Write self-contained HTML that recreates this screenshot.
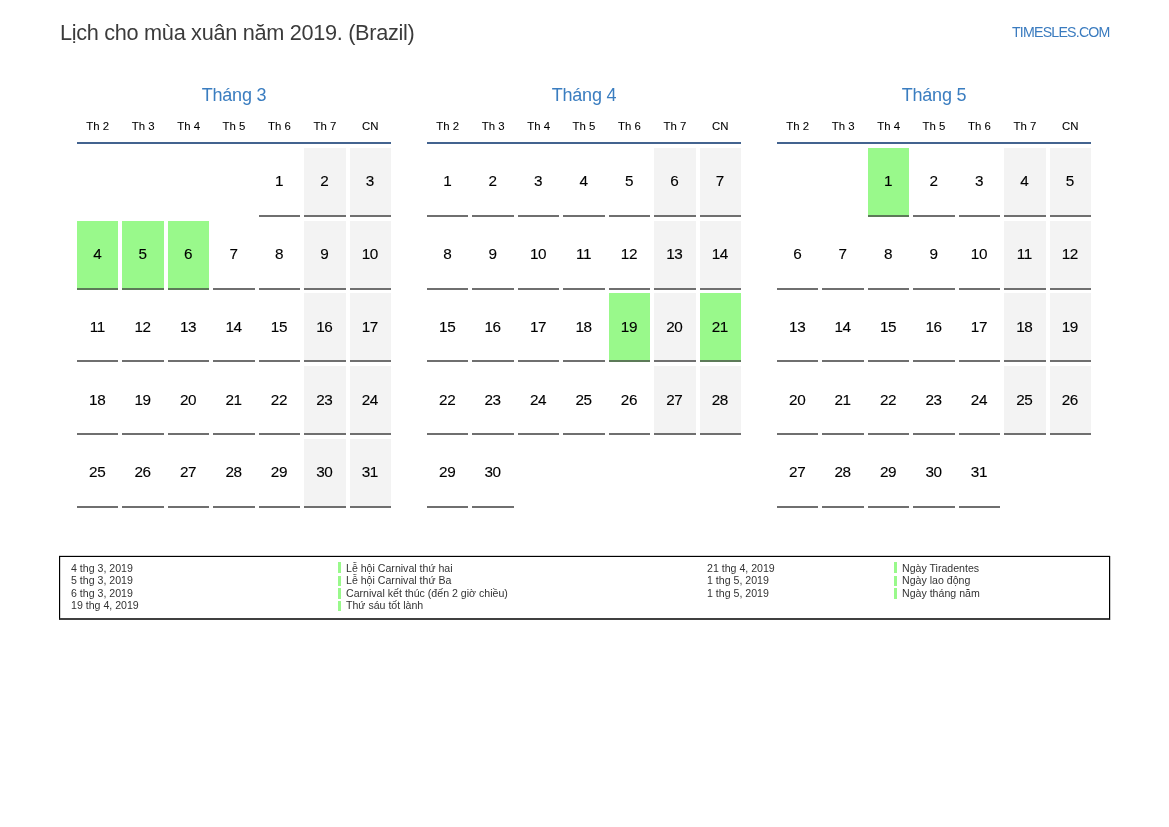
<!DOCTYPE html><html><head><meta charset="utf-8"><style>
html,body{margin:0;padding:0;background:#fff;width:1169px;height:827px;overflow:hidden;}
body{position:relative;font-family:"Liberation Sans", sans-serif;}
#w{position:absolute;left:0;top:0;width:1169px;height:827px;will-change:transform;}
.a{position:absolute;white-space:nowrap;}
.t{left:60px;top:22px;font-size:21.7px;letter-spacing:-0.3px;color:#3b3b3b;line-height:1;}
.b{left:1012px;top:25px;font-size:14.2px;letter-spacing:-0.8px;color:#3a7bbf;line-height:1;}
.mt{top:85px;width:314px;text-align:center;font-size:18px;letter-spacing:-0.2px;color:#3a7dc0;line-height:20px;}
.wd{top:119px;width:41.43px;text-align:center;font-size:11.4px;color:#000;-webkit-text-stroke:0.08px #000;line-height:14px;}
.ln{top:142px;width:314px;height:2px;background:#43638f;}
.c{width:41.43px;height:67px;border-bottom:2px solid #6f6f6f;}
.n{width:41.43px;height:67px;text-align:center;line-height:66px;font-size:15.3px;letter-spacing:-0.4px;text-indent:-1px;color:#000;-webkit-text-stroke:0.12px #000;}
.w{background:#f3f3f3;}.g{background:#99f98b;border-bottom-color:#5c7a58;}
.lg{left:59px;top:556px;width:1049px;height:61px;border:1px solid #000;border-bottom:2px solid #404040;box-shadow:0 -1px 0 #d4d4d4,1px 0 0 #c8c8c8,inset 1px 0 0 #d4d4d4;}
.li{font-size:10.6px;line-height:12.35px;color:#333;}
.gb{width:3px;background:#99f98b;}
</style></head><body><div id="w">
<div class="a t">Lịch cho mùa xuân năm 2019. (Brazil)</div>
<div class="a b">TIMESLES.COM</div>
<div class="a mt" style="left:77px">Tháng 3</div>
<div class="a wd" style="left:77.00px">Th 2</div>
<div class="a wd" style="left:122.43px">Th 3</div>
<div class="a wd" style="left:167.86px">Th 4</div>
<div class="a wd" style="left:213.29px">Th 5</div>
<div class="a wd" style="left:258.72px">Th 6</div>
<div class="a wd" style="left:304.15px">Th 7</div>
<div class="a wd" style="left:349.58px">CN</div>
<div class="a ln" style="left:77px"></div>
<div class="a c" style="left:258.72px;top:148.00px"></div>
<div class="a n" style="left:258.72px;top:148px">1</div>
<div class="a c w" style="left:304.15px;top:148.00px"></div>
<div class="a n" style="left:304.15px;top:148px">2</div>
<div class="a c w" style="left:349.58px;top:148.00px"></div>
<div class="a n" style="left:349.58px;top:148px">3</div>
<div class="a c g" style="left:77.00px;top:220.70px"></div>
<div class="a n" style="left:77.00px;top:221px">4</div>
<div class="a c g" style="left:122.43px;top:220.70px"></div>
<div class="a n" style="left:122.43px;top:221px">5</div>
<div class="a c g" style="left:167.86px;top:220.70px"></div>
<div class="a n" style="left:167.86px;top:221px">6</div>
<div class="a c" style="left:213.29px;top:220.70px"></div>
<div class="a n" style="left:213.29px;top:221px">7</div>
<div class="a c" style="left:258.72px;top:220.70px"></div>
<div class="a n" style="left:258.72px;top:221px">8</div>
<div class="a c w" style="left:304.15px;top:220.70px"></div>
<div class="a n" style="left:304.15px;top:221px">9</div>
<div class="a c w" style="left:349.58px;top:220.70px"></div>
<div class="a n" style="left:349.58px;top:221px">10</div>
<div class="a c" style="left:77.00px;top:293.40px"></div>
<div class="a n" style="left:77.00px;top:294px">11</div>
<div class="a c" style="left:122.43px;top:293.40px"></div>
<div class="a n" style="left:122.43px;top:294px">12</div>
<div class="a c" style="left:167.86px;top:293.40px"></div>
<div class="a n" style="left:167.86px;top:294px">13</div>
<div class="a c" style="left:213.29px;top:293.40px"></div>
<div class="a n" style="left:213.29px;top:294px">14</div>
<div class="a c" style="left:258.72px;top:293.40px"></div>
<div class="a n" style="left:258.72px;top:294px">15</div>
<div class="a c w" style="left:304.15px;top:293.40px"></div>
<div class="a n" style="left:304.15px;top:294px">16</div>
<div class="a c w" style="left:349.58px;top:293.40px"></div>
<div class="a n" style="left:349.58px;top:294px">17</div>
<div class="a c" style="left:77.00px;top:366.10px"></div>
<div class="a n" style="left:77.00px;top:367px">18</div>
<div class="a c" style="left:122.43px;top:366.10px"></div>
<div class="a n" style="left:122.43px;top:367px">19</div>
<div class="a c" style="left:167.86px;top:366.10px"></div>
<div class="a n" style="left:167.86px;top:367px">20</div>
<div class="a c" style="left:213.29px;top:366.10px"></div>
<div class="a n" style="left:213.29px;top:367px">21</div>
<div class="a c" style="left:258.72px;top:366.10px"></div>
<div class="a n" style="left:258.72px;top:367px">22</div>
<div class="a c w" style="left:304.15px;top:366.10px"></div>
<div class="a n" style="left:304.15px;top:367px">23</div>
<div class="a c w" style="left:349.58px;top:366.10px"></div>
<div class="a n" style="left:349.58px;top:367px">24</div>
<div class="a c" style="left:77.00px;top:438.80px"></div>
<div class="a n" style="left:77.00px;top:439px">25</div>
<div class="a c" style="left:122.43px;top:438.80px"></div>
<div class="a n" style="left:122.43px;top:439px">26</div>
<div class="a c" style="left:167.86px;top:438.80px"></div>
<div class="a n" style="left:167.86px;top:439px">27</div>
<div class="a c" style="left:213.29px;top:438.80px"></div>
<div class="a n" style="left:213.29px;top:439px">28</div>
<div class="a c" style="left:258.72px;top:438.80px"></div>
<div class="a n" style="left:258.72px;top:439px">29</div>
<div class="a c w" style="left:304.15px;top:438.80px"></div>
<div class="a n" style="left:304.15px;top:439px">30</div>
<div class="a c w" style="left:349.58px;top:438.80px"></div>
<div class="a n" style="left:349.58px;top:439px">31</div>
<div class="a mt" style="left:427px">Tháng 4</div>
<div class="a wd" style="left:427.00px">Th 2</div>
<div class="a wd" style="left:472.43px">Th 3</div>
<div class="a wd" style="left:517.86px">Th 4</div>
<div class="a wd" style="left:563.29px">Th 5</div>
<div class="a wd" style="left:608.72px">Th 6</div>
<div class="a wd" style="left:654.15px">Th 7</div>
<div class="a wd" style="left:699.58px">CN</div>
<div class="a ln" style="left:427px"></div>
<div class="a c" style="left:427.00px;top:148.00px"></div>
<div class="a n" style="left:427.00px;top:148px">1</div>
<div class="a c" style="left:472.43px;top:148.00px"></div>
<div class="a n" style="left:472.43px;top:148px">2</div>
<div class="a c" style="left:517.86px;top:148.00px"></div>
<div class="a n" style="left:517.86px;top:148px">3</div>
<div class="a c" style="left:563.29px;top:148.00px"></div>
<div class="a n" style="left:563.29px;top:148px">4</div>
<div class="a c" style="left:608.72px;top:148.00px"></div>
<div class="a n" style="left:608.72px;top:148px">5</div>
<div class="a c w" style="left:654.15px;top:148.00px"></div>
<div class="a n" style="left:654.15px;top:148px">6</div>
<div class="a c w" style="left:699.58px;top:148.00px"></div>
<div class="a n" style="left:699.58px;top:148px">7</div>
<div class="a c" style="left:427.00px;top:220.70px"></div>
<div class="a n" style="left:427.00px;top:221px">8</div>
<div class="a c" style="left:472.43px;top:220.70px"></div>
<div class="a n" style="left:472.43px;top:221px">9</div>
<div class="a c" style="left:517.86px;top:220.70px"></div>
<div class="a n" style="left:517.86px;top:221px">10</div>
<div class="a c" style="left:563.29px;top:220.70px"></div>
<div class="a n" style="left:563.29px;top:221px">11</div>
<div class="a c" style="left:608.72px;top:220.70px"></div>
<div class="a n" style="left:608.72px;top:221px">12</div>
<div class="a c w" style="left:654.15px;top:220.70px"></div>
<div class="a n" style="left:654.15px;top:221px">13</div>
<div class="a c w" style="left:699.58px;top:220.70px"></div>
<div class="a n" style="left:699.58px;top:221px">14</div>
<div class="a c" style="left:427.00px;top:293.40px"></div>
<div class="a n" style="left:427.00px;top:294px">15</div>
<div class="a c" style="left:472.43px;top:293.40px"></div>
<div class="a n" style="left:472.43px;top:294px">16</div>
<div class="a c" style="left:517.86px;top:293.40px"></div>
<div class="a n" style="left:517.86px;top:294px">17</div>
<div class="a c" style="left:563.29px;top:293.40px"></div>
<div class="a n" style="left:563.29px;top:294px">18</div>
<div class="a c g" style="left:608.72px;top:293.40px"></div>
<div class="a n" style="left:608.72px;top:294px">19</div>
<div class="a c w" style="left:654.15px;top:293.40px"></div>
<div class="a n" style="left:654.15px;top:294px">20</div>
<div class="a c g" style="left:699.58px;top:293.40px"></div>
<div class="a n" style="left:699.58px;top:294px">21</div>
<div class="a c" style="left:427.00px;top:366.10px"></div>
<div class="a n" style="left:427.00px;top:367px">22</div>
<div class="a c" style="left:472.43px;top:366.10px"></div>
<div class="a n" style="left:472.43px;top:367px">23</div>
<div class="a c" style="left:517.86px;top:366.10px"></div>
<div class="a n" style="left:517.86px;top:367px">24</div>
<div class="a c" style="left:563.29px;top:366.10px"></div>
<div class="a n" style="left:563.29px;top:367px">25</div>
<div class="a c" style="left:608.72px;top:366.10px"></div>
<div class="a n" style="left:608.72px;top:367px">26</div>
<div class="a c w" style="left:654.15px;top:366.10px"></div>
<div class="a n" style="left:654.15px;top:367px">27</div>
<div class="a c w" style="left:699.58px;top:366.10px"></div>
<div class="a n" style="left:699.58px;top:367px">28</div>
<div class="a c" style="left:427.00px;top:438.80px"></div>
<div class="a n" style="left:427.00px;top:439px">29</div>
<div class="a c" style="left:472.43px;top:438.80px"></div>
<div class="a n" style="left:472.43px;top:439px">30</div>
<div class="a mt" style="left:777px">Tháng 5</div>
<div class="a wd" style="left:777.00px">Th 2</div>
<div class="a wd" style="left:822.43px">Th 3</div>
<div class="a wd" style="left:867.86px">Th 4</div>
<div class="a wd" style="left:913.29px">Th 5</div>
<div class="a wd" style="left:958.72px">Th 6</div>
<div class="a wd" style="left:1004.15px">Th 7</div>
<div class="a wd" style="left:1049.58px">CN</div>
<div class="a ln" style="left:777px"></div>
<div class="a c g" style="left:867.86px;top:148.00px"></div>
<div class="a n" style="left:867.86px;top:148px">1</div>
<div class="a c" style="left:913.29px;top:148.00px"></div>
<div class="a n" style="left:913.29px;top:148px">2</div>
<div class="a c" style="left:958.72px;top:148.00px"></div>
<div class="a n" style="left:958.72px;top:148px">3</div>
<div class="a c w" style="left:1004.15px;top:148.00px"></div>
<div class="a n" style="left:1004.15px;top:148px">4</div>
<div class="a c w" style="left:1049.58px;top:148.00px"></div>
<div class="a n" style="left:1049.58px;top:148px">5</div>
<div class="a c" style="left:777.00px;top:220.70px"></div>
<div class="a n" style="left:777.00px;top:221px">6</div>
<div class="a c" style="left:822.43px;top:220.70px"></div>
<div class="a n" style="left:822.43px;top:221px">7</div>
<div class="a c" style="left:867.86px;top:220.70px"></div>
<div class="a n" style="left:867.86px;top:221px">8</div>
<div class="a c" style="left:913.29px;top:220.70px"></div>
<div class="a n" style="left:913.29px;top:221px">9</div>
<div class="a c" style="left:958.72px;top:220.70px"></div>
<div class="a n" style="left:958.72px;top:221px">10</div>
<div class="a c w" style="left:1004.15px;top:220.70px"></div>
<div class="a n" style="left:1004.15px;top:221px">11</div>
<div class="a c w" style="left:1049.58px;top:220.70px"></div>
<div class="a n" style="left:1049.58px;top:221px">12</div>
<div class="a c" style="left:777.00px;top:293.40px"></div>
<div class="a n" style="left:777.00px;top:294px">13</div>
<div class="a c" style="left:822.43px;top:293.40px"></div>
<div class="a n" style="left:822.43px;top:294px">14</div>
<div class="a c" style="left:867.86px;top:293.40px"></div>
<div class="a n" style="left:867.86px;top:294px">15</div>
<div class="a c" style="left:913.29px;top:293.40px"></div>
<div class="a n" style="left:913.29px;top:294px">16</div>
<div class="a c" style="left:958.72px;top:293.40px"></div>
<div class="a n" style="left:958.72px;top:294px">17</div>
<div class="a c w" style="left:1004.15px;top:293.40px"></div>
<div class="a n" style="left:1004.15px;top:294px">18</div>
<div class="a c w" style="left:1049.58px;top:293.40px"></div>
<div class="a n" style="left:1049.58px;top:294px">19</div>
<div class="a c" style="left:777.00px;top:366.10px"></div>
<div class="a n" style="left:777.00px;top:367px">20</div>
<div class="a c" style="left:822.43px;top:366.10px"></div>
<div class="a n" style="left:822.43px;top:367px">21</div>
<div class="a c" style="left:867.86px;top:366.10px"></div>
<div class="a n" style="left:867.86px;top:367px">22</div>
<div class="a c" style="left:913.29px;top:366.10px"></div>
<div class="a n" style="left:913.29px;top:367px">23</div>
<div class="a c" style="left:958.72px;top:366.10px"></div>
<div class="a n" style="left:958.72px;top:367px">24</div>
<div class="a c w" style="left:1004.15px;top:366.10px"></div>
<div class="a n" style="left:1004.15px;top:367px">25</div>
<div class="a c w" style="left:1049.58px;top:366.10px"></div>
<div class="a n" style="left:1049.58px;top:367px">26</div>
<div class="a c" style="left:777.00px;top:438.80px"></div>
<div class="a n" style="left:777.00px;top:439px">27</div>
<div class="a c" style="left:822.43px;top:438.80px"></div>
<div class="a n" style="left:822.43px;top:439px">28</div>
<div class="a c" style="left:867.86px;top:438.80px"></div>
<div class="a n" style="left:867.86px;top:439px">29</div>
<div class="a c" style="left:913.29px;top:438.80px"></div>
<div class="a n" style="left:913.29px;top:439px">30</div>
<div class="a c" style="left:958.72px;top:438.80px"></div>
<div class="a n" style="left:958.72px;top:439px">31</div>
<div class="a lg"></div>
<div class="a" style="left:71px;top:562px"><div class="li">4 thg 3, 2019</div><div class="li">5 thg 3, 2019</div><div class="li">6 thg 3, 2019</div><div class="li">19 thg 4, 2019</div></div>
<div class="a" style="left:346px;top:562px"><div class="li">Lễ hội Carnival thứ hai</div><div class="li">Lễ hội Carnival thứ Ba</div><div class="li">Carnival kết thúc (đến 2 giờ chiều)</div><div class="li">Thứ sáu tốt lành</div></div>
<div class="a" style="left:707px;top:562px"><div class="li">21 thg 4, 2019</div><div class="li">1 thg 5, 2019</div><div class="li">1 thg 5, 2019</div></div>
<div class="a" style="left:902px;top:562px"><div class="li">Ngày Tiradentes</div><div class="li">Ngày lao động</div><div class="li">Ngày tháng năm</div></div>
<div class="a gb" style="left:338px;top:562px;height:11px"></div>
<div class="a gb" style="left:338px;top:576px;height:10px"></div>
<div class="a gb" style="left:338px;top:588px;height:11px"></div>
<div class="a gb" style="left:338px;top:601px;height:10px"></div>
<div class="a gb" style="left:894px;top:562px;height:11px"></div>
<div class="a gb" style="left:894px;top:576px;height:10px"></div>
<div class="a gb" style="left:894px;top:588px;height:11px"></div>
</div></body></html>
